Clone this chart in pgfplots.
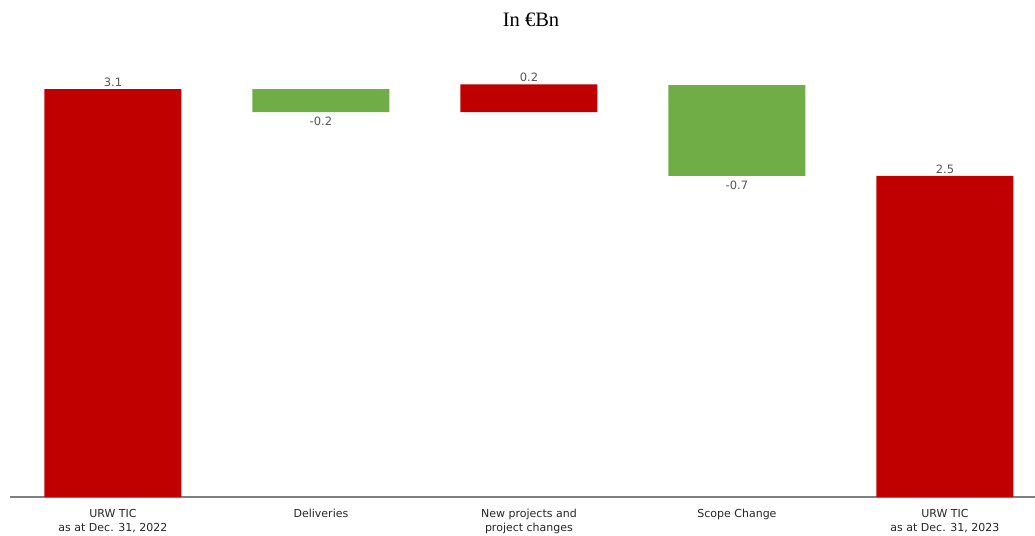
\documentclass[border=0pt]{standalone}
\usepackage{pgfplots}
\pgfplotsset{compat=1.18}
\usepackage{fontspec}
\setmainfont{DejaVu Sans}
\newfontfamily\titlefont{Liberation Serif}
\definecolor{urwred}{HTML}{C00000}
\definecolor{urwgreen}{HTML}{70AD47}
\definecolor{lblgray}{HTML}{555555}
\definecolor{axgray}{HTML}{7F7F7F}
\pgfplotsset{common/.style={scale only axis, width=1025pt, height=460.6pt,
  xmin=-0.495, xmax=4.433, ymin=0, ymax=3.5, at={(10pt,38pt)}, anchor=south west}}
\begin{document}
\begin{tikzpicture}
\useasboundingbox (0,0) rectangle (1035pt,535pt);
\node[font=\titlefont\fontsize{20.5}{24}\selectfont, anchor=center] at (531pt,515pt) {In €Bn};
\begin{axis}[common, ybar stacked, bar width=137pt,
  axis x line*=bottom, axis y line=none,
  x axis line style={axgray, line width=1.3pt},
  xtick=data, major tick length=0pt, ytick=\empty,
  xticklabels={{URW TIC\\as at Dec. 31, 2022}, {Deliveries}, {New projects and\\project changes}, {Scope Change}, {URW TIC\\as at Dec. 31, 2023}},
  xticklabel style={align=center, font=\fontsize{11}{14}\selectfont, text=black!85, yshift=-9pt}]
\addplot[draw=none, fill=none] coordinates {(0,0)(1,2.925)(2,2.925)(3,2.44)(4,0)};
\addplot[fill=urwred, draw=none] coordinates {(0,3.1)(1,0)(2,0.21)(3,0)(4,2.44)};
\addplot[fill=urwgreen, draw=none] coordinates {(0,0)(1,0.175)(2,0)(3,0.69)(4,0)};
\end{axis}
\begin{axis}[common, hide axis]
\addplot[draw=none, mark=none, nodes near coords, point meta=explicit symbolic,
  nodes near coords style={font=\fontsize{11.5}{13}\selectfont, text=lblgray, anchor=south, inner sep=2.5pt}]
  coordinates {(0,3.1)[3.1] (2,3.135)[0.2] (4,2.44)[2.5]};
\addplot[draw=none, mark=none, nodes near coords, point meta=explicit symbolic,
  nodes near coords style={font=\fontsize{11.5}{13}\selectfont, text=lblgray, anchor=north, inner sep=5pt}]
  coordinates {(1,2.925)[-0.2] (3,2.44)[-0.7]};
\end{axis}
\end{tikzpicture}
\end{document}
